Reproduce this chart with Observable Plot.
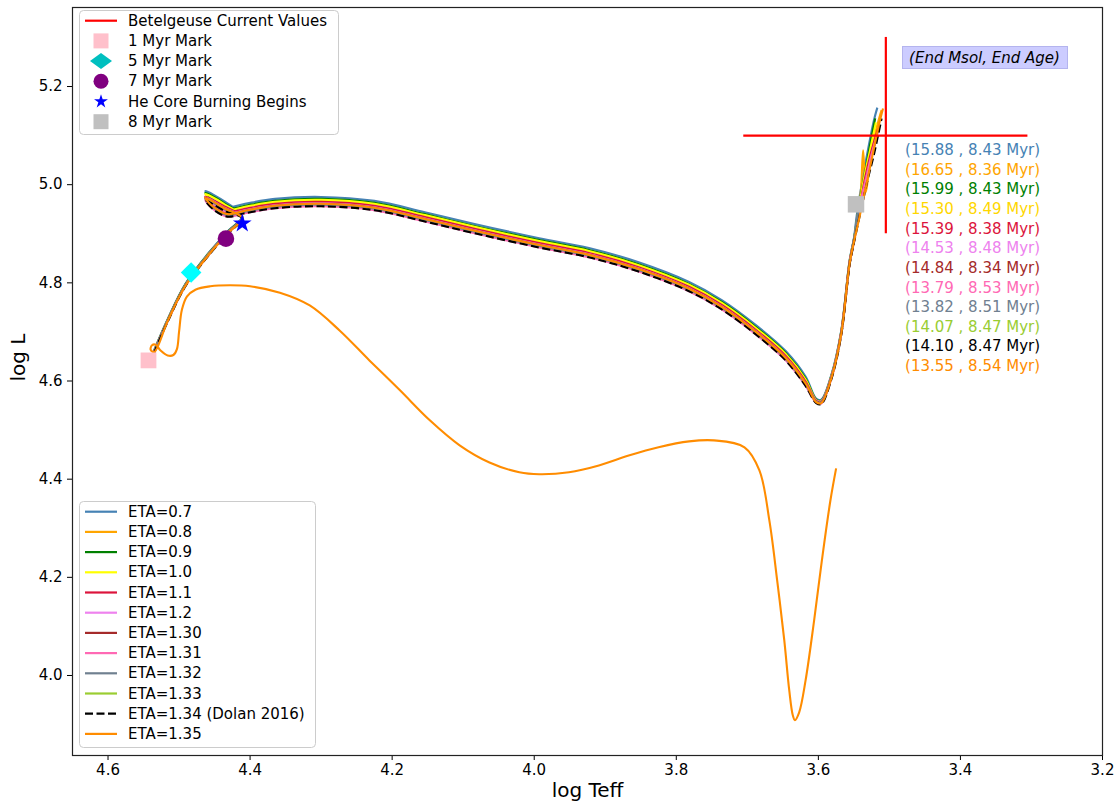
<!DOCTYPE html>
<html><head><meta charset="utf-8">
<script src="https://cdn.jsdelivr.net/npm/d3@7"></script>
<script src="https://cdn.jsdelivr.net/npm/@observablehq/plot@0.6"></script>
<style>
html,body{margin:0;padding:0;background:#fff;}
#chart{position:relative;width:1115px;height:807px;}
</style></head><body><div id="chart"></div>
<script>
// ---------- data ----------
const etaLabels = ["ETA=0.7","ETA=0.8","ETA=0.9","ETA=1.0","ETA=1.1","ETA=1.2","ETA=1.30","ETA=1.31","ETA=1.32","ETA=1.33","ETA=1.34 (Dolan 2016)","ETA=1.35"];
const etaColors = ["steelblue","orange","green","yellow","crimson","violet","brown","hotpink","slategray","yellowgreen","black","darkorange"];
const endLabelColors = ["steelblue","orange","green","gold","crimson","violet","brown","hotpink","slategray","yellowgreen","black","darkorange"];
const endMass = ["15.88","16.65","15.99","15.30","15.39","14.53","14.84","13.79","13.82","14.07","14.10","13.55"];
const endAge  = ["8.43","8.36","8.43","8.49","8.38","8.48","8.34","8.53","8.51","8.47","8.47","8.54"];

// shared log Teff samples along the track body (ZAMS -> hook -> Hertzsprung gap -> RSG base)
const bodyTeff = [4.535,4.516,4.491,4.456,4.430,4.411,4.435,4.463,4.452,4.432,4.407,4.365,4.300,4.225,4.154,4.084,3.993,3.923,3.853,3.782,3.736,3.688,3.646,3.618,3.603,3.596,3.582,3.568,3.556,3.550];
const L07  = [4.663,4.726,4.798,4.865,4.907,4.936,4.965,4.987,4.969,4.954,4.961,4.971,4.975,4.967,4.944,4.920,4.891,4.871,4.842,4.802,4.765,4.714,4.661,4.609,4.564,4.562,4.611,4.701,4.846,4.890];
const L08  = [4.660,4.723,4.795,4.862,4.904,4.933,4.953,4.975,4.957,4.942,4.949,4.959,4.963,4.955,4.932,4.908,4.879,4.859,4.830,4.790,4.753,4.702,4.649,4.597,4.558,4.556,4.605,4.695,4.840,4.884];
const L09  = [4.662,4.725,4.797,4.864,4.906,4.935,4.961,4.983,4.965,4.950,4.957,4.967,4.971,4.963,4.940,4.916,4.887,4.867,4.838,4.798,4.761,4.710,4.657,4.605,4.562,4.560,4.609,4.699,4.844,4.888];
const L10  = [4.661,4.724,4.796,4.863,4.905,4.934,4.959,4.981,4.963,4.948,4.955,4.965,4.969,4.961,4.938,4.914,4.885,4.865,4.836,4.796,4.759,4.708,4.655,4.603,4.561,4.559,4.608,4.698,4.843,4.887];
const L11  = [4.660,4.723,4.795,4.862,4.904,4.933,4.955,4.976,4.959,4.944,4.951,4.961,4.965,4.957,4.934,4.910,4.881,4.861,4.832,4.792,4.755,4.704,4.651,4.599,4.560,4.558,4.607,4.697,4.842,4.886];
const L12  = [4.660,4.723,4.795,4.862,4.904,4.933,4.952,4.974,4.956,4.941,4.948,4.958,4.962,4.954,4.931,4.907,4.878,4.858,4.829,4.789,4.752,4.701,4.648,4.596,4.560,4.558,4.607,4.697,4.842,4.886];
const L130 = [4.660,4.723,4.795,4.862,4.904,4.933,4.951,4.973,4.955,4.940,4.947,4.957,4.961,4.953,4.930,4.906,4.877,4.857,4.828,4.788,4.751,4.700,4.647,4.595,4.559,4.557,4.606,4.696,4.841,4.885];
const L131 = [4.659,4.722,4.794,4.861,4.903,4.932,4.946,4.968,4.950,4.935,4.942,4.952,4.956,4.948,4.925,4.901,4.872,4.852,4.823,4.783,4.746,4.695,4.642,4.590,4.556,4.554,4.603,4.693,4.838,4.882];
const L132 = [4.660,4.723,4.795,4.862,4.904,4.933,4.949,4.971,4.953,4.938,4.945,4.955,4.959,4.951,4.928,4.904,4.875,4.855,4.826,4.786,4.749,4.698,4.645,4.593,4.558,4.556,4.605,4.695,4.840,4.884];
const L133 = [4.660,4.723,4.795,4.862,4.904,4.933,4.950,4.972,4.954,4.939,4.946,4.956,4.960,4.952,4.929,4.905,4.876,4.856,4.827,4.787,4.750,4.699,4.646,4.594,4.559,4.557,4.606,4.696,4.841,4.885];
const L134 = [4.658,4.721,4.793,4.860,4.902,4.931,4.946,4.968,4.950,4.935,4.942,4.952,4.956,4.948,4.925,4.901,4.872,4.852,4.823,4.783,4.746,4.695,4.642,4.590,4.555,4.553,4.602,4.692,4.837,4.881];
const L135 = [4.659,4.722,4.794,4.861,4.903,4.932,4.951,4.973,4.955,4.940,4.947,4.957,4.961,4.953,4.930,4.906,4.877,4.857,4.828,4.788,4.751,4.700,4.647,4.595,4.557,4.555,4.604,4.694,4.839,4.883];

// red-supergiant tails (per series)
const tailT07 = [3.546,3.542,3.536,3.529,3.522,3.517], tailL07 = [4.937,4.975,5.025,5.080,5.130,5.157];
const tailT08 = [3.544,3.540,3.537,3.535,3.533,3.527,3.519,3.511], tailL08 = [4.933,4.990,5.070,5.020,4.985,5.050,5.110,5.152];
const tailT09 = [3.545,3.541,3.535,3.528,3.520], tailL09 = [4.935,4.972,5.020,5.075,5.135];
const tailT10 = [3.545,3.541,3.535,3.527,3.519], tailL10 = [4.934,4.970,5.018,5.072,5.127];
const tailT11 = [3.544,3.540,3.534,3.526,3.516], tailL11 = [4.933,4.968,5.015,5.065,5.114];
const tailT12 = [3.544,3.540,3.533,3.525,3.517], tailL12 = [4.932,4.966,5.012,5.060,5.100];
const tailT130 = [3.544,3.539,3.533,3.526,3.519], tailL130 = [4.931,4.964,5.010,5.055,5.090];
const tailT131 = [3.544,3.540,3.533,3.525,3.516], tailL131 = [4.930,4.963,5.010,5.062,5.108];
const tailT132 = [3.546,3.542,3.548,3.553], tailL132 = [4.930,4.960,4.905,4.868];
const tailT133 = [3.545,3.540,3.534,3.527,3.520], tailL133 = [4.932,4.966,5.012,5.065,5.110];
const tailT134 = [3.543,3.538,3.531,3.522,3.511], tailL134 = [4.929,4.962,5.008,5.060,5.135];
const tailT135 = [3.543,3.538,3.531,3.523,3.515,3.509], tailL135 = [4.928,4.962,5.010,5.065,5.120,5.155];

// pre-main-sequence part of the ETA=1.35 track
const preT135 = [3.575,3.583,3.595,3.606,3.618,3.627,3.633,3.636,3.641,3.648,3.658,3.669,3.683,3.704,3.747,3.782,3.825,3.867,3.909,3.951,3.993,4.021,4.063,4.105,4.147,4.189,4.232,4.274,4.316,4.358,4.400,4.428,4.456,4.477,4.489,4.496,4.500,4.503,4.508,4.516,4.526,4.533,4.538,4.540];
const preL135 = [4.422,4.357,4.235,4.112,3.990,3.925,3.909,3.919,3.970,4.072,4.194,4.316,4.418,4.465,4.479,4.477,4.465,4.448,4.428,4.414,4.410,4.414,4.434,4.469,4.520,4.581,4.642,4.703,4.754,4.780,4.793,4.795,4.793,4.786,4.772,4.745,4.700,4.665,4.653,4.652,4.662,4.674,4.673,4.664];

// age markers
const markLabels = ["1 Myr Mark","5 Myr Mark","7 Myr Mark","He Core Burning Begins","8 Myr Mark"];
const markTeff = [4.543, 4.483, 4.434, 4.411, 3.547];
const markL    = [4.642, 4.821, 4.890, 4.921, 4.960];

// Betelgeuse current values
const betelTeff = 3.505, betelL = 5.1;
const betelTeffRange = [3.305, 3.705];
const betelLRange = [4.9, 5.3];

const xTicks = [4.6,4.4,4.2,4.0,3.8,3.6,3.4,3.2];
const yTicks = [4.0,4.2,4.4,4.6,4.8,5.0,5.2];

// ---------- build ----------
const bodyL = [L07,L08,L09,L10,L11,L12,L130,L131,L132,L133,L134,L135];
const tailT = [tailT07,tailT08,tailT09,tailT10,tailT11,tailT12,tailT130,tailT131,tailT132,tailT133,tailT134,tailT135];
const tailL = [tailL07,tailL08,tailL09,tailL10,tailL11,tailL12,tailL130,tailL131,tailL132,tailL133,tailL134,tailL135];

const lineMarks = etaLabels.map((lab, i) => {
  const T = (i === 11 ? preT135 : []).concat(bodyTeff, tailT[i]);
  const L = (i === 11 ? preL135 : []).concat(bodyL[i], tailL[i]);
  const rows = T.map((t, k) => ({t, l: L[k]}));
  return Plot.line(rows, {x: "t", y: "l", stroke: etaColors[i], strokeWidth: 2.1, curve: "catmull-rom",
    strokeDasharray: i === 10 ? "8,3.5" : undefined, strokeLinecap: "butt"});
});

const markStyle = [
  {symbol: "square", fill: "pink", r: 8.9},
  {symbol: "diamond2", fill: "cyan", r: 9.3},
  {symbol: "circle", fill: "purple", r: 8.3},
  {symbol: "star", fill: "blue", r: 5.9},
  {symbol: "square", fill: "silver", r: 9.3}
];
const dotMarks = markTeff.map((t, i) => Plot.dot([{t, l: markL[i]}], {x: "t", y: "l", ...markStyle[i], stroke: "none"}));

const endLabels = endMass.map((m, i) => `(${m} , ${endAge[i]} Myr)`);
const labelTeff = 3.478, labelTopL = 5.07, labelStepL = 0.04;

const fmt = d3.format(".1f");
const chart = Plot.plot({
  width: 1115, height: 807,
  marginLeft: 72, marginRight: 13, marginTop: 7, marginBottom: 52,
  x: {domain: [4.65, 3.2]},
  y: {domain: [3.837, 5.361]},
  color: {type: "identity"},
  style: {fontFamily: "'DejaVu Sans', sans-serif", fontSize: "15px", color: "black", background: "white"},
  marks: [
    Plot.axisX(xTicks, {tickSize: 5, tickPadding: 4, tickFormat: fmt, label: null, fontSize: 15}),
    Plot.axisY(yTicks, {tickSize: 5, tickPadding: 5, tickFormat: fmt, label: null, fontSize: 15}),
    ...lineMarks,
    ...dotMarks,
    Plot.ruleY([betelL], {x1: () => betelTeffRange[0], x2: () => betelTeffRange[1], stroke: "red", strokeWidth: 2.2}),
    Plot.ruleX([betelTeff], {y1: () => betelLRange[0], y2: () => betelLRange[1], stroke: "red", strokeWidth: 2.2}),
    Plot.text(endLabels, {text: d => d, x: () => labelTeff, y: (d, i) => labelTopL - i * labelStepL,
      fill: (d, i) => endLabelColors[i], textAnchor: "start", fontSize: 15}),
    Plot.frame({stroke: "#222", strokeWidth: 1.2}),
    Plot.text(["log Teff"], {text: d => d, frameAnchor: "bottom", dy: 41, fontSize: 20}),
    Plot.text(["log L"], {text: d => d, frameAnchor: "left", dx: -54, rotate: -90, fontSize: 20})
  ]
});
document.getElementById("chart").append(chart);

// ---------- legends & annotation box ----------
const svg = d3.select(chart);
const g = svg.append("g").attr("font-family", "'DejaVu Sans', sans-serif").attr("font-size", 15).attr("text-anchor", "start");

// annotation box
g.append("rect").attr("x", 902.5).attr("y", 46.5).attr("width", 165).attr("height", 22)
  .attr("fill", "#ccccff").attr("stroke", "#b4b4ee");
g.append("text").attr("x", 984.5).attr("y", 57.5).attr("text-anchor", "middle").attr("dominant-baseline", "central")
  .attr("font-style", "italic").attr("fill", "black").text("(End Msol, End Age)");

// top legend
const topLabels = ["Betelgeuse Current Values"].concat(markLabels.slice(0, 4), markLabels.slice(4));
const topKinds = ["line","square","diamond","circle","star","square"];
const topColors = ["red","pink","#00bfbf","purple","blue","silver"];
g.append("rect").attr("x", 79.5).attr("y", 10.5).attr("width", 259).attr("height", 124).attr("rx", 4)
  .attr("fill", "white").attr("fill-opacity", 0.8).attr("stroke", "#cccccc");
topLabels.forEach((lab, i) => {
  const cy = 20.7 + i * 20.2, cx = 101;
  const k = topKinds[i], c = topColors[i];
  if (k === "line") g.append("line").attr("x1", 85).attr("x2", 117).attr("y1", cy).attr("y2", cy).attr("stroke", c).attr("stroke-width", 2.2);
  else if (k === "square") g.append("rect").attr("x", cx - 7.5).attr("y", cy - 7.5).attr("width", 15).attr("height", 15).attr("fill", c);
  else if (k === "diamond") g.append("path").attr("d", `M${cx-11},${cy}L${cx},${cy-8}L${cx+11},${cy}L${cx},${cy+8}Z`).attr("fill", c);
  else if (k === "circle") g.append("circle").attr("cx", cx).attr("cy", cy).attr("r", 7.5).attr("fill", c);
  else if (k === "star") g.append("path").attr("transform", `translate(${cx},${cy})`).attr("d", d3.symbol(d3.symbolStar, 60)()).attr("fill", c);
  g.append("text").attr("x", 128).attr("y", cy).attr("text-anchor", "start").attr("dominant-baseline", "central").attr("fill", "black").text(lab);
});

// bottom legend
g.append("rect").attr("x", 79.5).attr("y", 501.5).attr("width", 236).attr("height", 246).attr("rx", 4)
  .attr("fill", "white").attr("fill-opacity", 0.8).attr("stroke", "#cccccc");
etaLabels.forEach((lab, i) => {
  const cy = 511.7 + i * 20.2;
  g.append("line").attr("x1", 85).attr("x2", 117).attr("y1", cy).attr("y2", cy)
    .attr("stroke", etaColors[i]).attr("stroke-width", 2.2)
    .attr("stroke-dasharray", i === 10 ? "8,3.5" : null);
  g.append("text").attr("x", 128).attr("y", cy).attr("text-anchor", "start").attr("dominant-baseline", "central").attr("fill", "black").text(lab);
});
</script>
</body></html>
